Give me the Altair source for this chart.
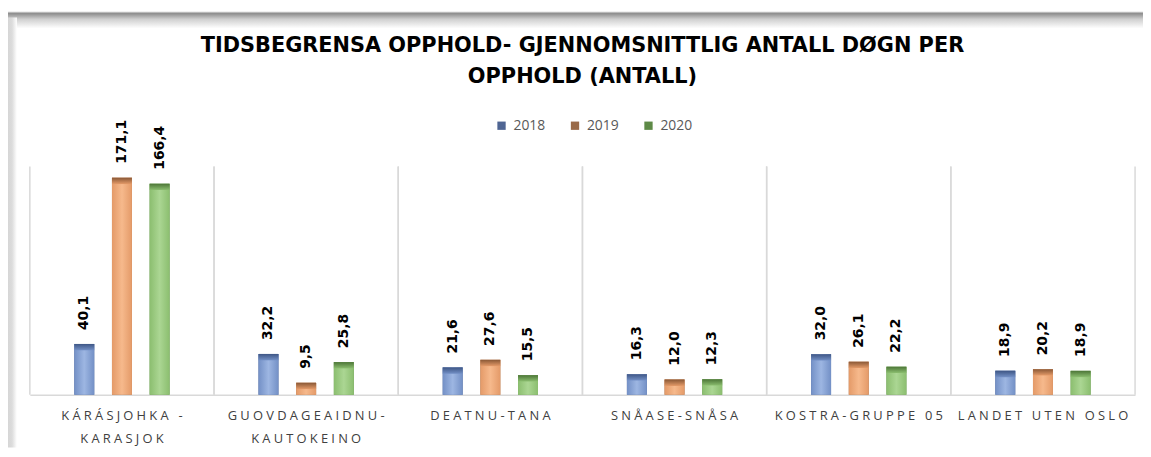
import altair as alt
import pandas as pd

categories = ["KÁRÁSJOHKA -\nKARASJOK", "GUOVDAGEAIDNU-\nKAUTOKEINO", "DEATNU-TANA",
              "SNÅASE-SNÅSA", "KOSTRA-GRUPPE 05", "LANDET UTEN OSLO"]
years = ["2018", "2019", "2020"]
v2018 = [40.1, 32.2, 21.6, 16.3, 32.0, 18.9]
v2019 = [171.1, 9.5, 27.6, 12.0, 26.1, 20.2]
v2020 = [166.4, 25.8, 15.5, 12.3, 22.2, 18.9]

legend_colors = ["#4F6593", "#9A6A48", "#5E8A47"]
body_light = ["#9DB6E2", "#F6B98C", "#ABD693"]
body_edge = ["#7390C6", "#E49A68", "#8BBE6F"]
cap_dark = ["#3E5685", "#8A5836", "#4C7537"]

rows = []
for i, c in enumerate(categories):
    for y, vals in zip(years, [v2018, v2019, v2020]):
        rows.append({"cat": c, "year": y, "value": vals[i]})
df = pd.DataFrame(rows)

ymax = 180
cat_sort = categories

x_enc = alt.X("cat:N", sort=cat_sort, title=None,
              scale=alt.Scale(paddingInner=0, paddingOuter=0),
              axis=alt.Axis(labelAngle=0, labelFont="Open Sans", labelFontSize=13,
                            labelColor="#404040", labelPadding=21, labelLineHeight=23,
                            labelAlign="center", bandPosition=0.5, labelBound=False,
                            labelOverlap=False, labelLimit=300,
                            ticks=False, grid=False, domainColor="#D9D9D9", domainWidth=1.5,
                            labelExpr="split(join(split(datum.label, ''), '\u2005'), '\\n')"))
xo_enc = alt.XOffset("year:N", sort=years,
                     scale=alt.Scale(domain=["_a"] + years + ["_b"], paddingInner=0.47, paddingOuter=0.18))
y_scale = alt.Scale(domain=[0, ymax], nice=False)
y_enc = alt.Y("value:Q", scale=y_scale, axis=None)

base = alt.Chart(df)

# decorative chart-frame shadow (Excel style)
one = alt.Chart(pd.DataFrame({"k": [0]}))
frame_top = one.mark_rect(color=alt.Gradient(
    gradient="linear", x1=0, x2=0, y1=0, y2=1,
    stops=[alt.GradientStop(offset=0, color="#E2E2E2"),
           alt.GradientStop(offset=0.12, color="#8E8E8E"),
           alt.GradientStop(offset=0.45, color="#CFCFCF"),
           alt.GradientStop(offset=1, color="#FFFFFF")])).encode(
    x=alt.value(-22), x2=alt.value(1121), y=alt.value(-156), y2=alt.value(-139))
frame_left = one.mark_rect(color=alt.Gradient(
    gradient="linear", x1=0, x2=1, y1=0, y2=0,
    stops=[alt.GradientStop(offset=0, color="#D6D6D6"),
           alt.GradientStop(offset=0.45, color="#DCDCDC"),
           alt.GradientStop(offset=1, color="#FFFFFF")])).encode(
    x=alt.value(-22), x2=alt.value(-13), y=alt.value(-150), y2=alt.value(283))

# separators
sep = base.transform_filter(alt.datum.year == "2018").transform_calculate(
    lo="0", hi=str(ymax))
sep0 = sep.mark_rule(color="#D9D9D9", strokeWidth=1.5).encode(
    x=alt.X("cat:N", sort=cat_sort, bandPosition=0),
    y=alt.Y("lo:Q", scale=y_scale, axis=None), y2="hi:Q")
sep1 = sep.mark_rule(color="#D9D9D9", strokeWidth=1.5).encode(
    x=alt.X("cat:N", sort=cat_sort, bandPosition=1),
    y=alt.Y("lo:Q", scale=y_scale, axis=None), y2="hi:Q")

legend_bars = base.mark_bar().encode(
    x=x_enc, xOffset=xo_enc, y=y_enc,
    color=alt.Color("year:N", sort=years,
                    scale=alt.Scale(domain=years, range=legend_colors),
                    legend=alt.Legend(title=None, orient="none", direction="horizontal",
                                      legendX=468, legendY=-48, symbolType="square",
                                      symbolSize=70, symbolOpacity=1, labelFont="Open Sans",
                                      labelFontSize=14, labelColor="#595959",
                                      labelOffset=5, columnPadding=22, symbolStrokeWidth=0)))

layers = [sep0, sep1, legend_bars]
for k, yr in enumerate(years):
    grad_body = alt.Gradient(gradient="linear", x1=0, x2=1, y1=0, y2=0,
                             stops=[alt.GradientStop(offset=0, color=body_edge[k]),
                                    alt.GradientStop(offset=0.5, color=body_light[k]),
                                    alt.GradientStop(offset=1, color=body_edge[k])])
    grad_cap = alt.Gradient(gradient="linear", x1=0, x2=0, y1=0, y2=1,
                            stops=[alt.GradientStop(offset=0, color=cap_dark[k]),
                                   alt.GradientStop(offset=1, color=body_edge[k])])
    sub = base.transform_filter(alt.datum.year == yr)
    layers.append(sub.mark_bar(color=grad_body).encode(x=x_enc, xOffset=xo_enc, y=y_enc))
    layers.append(sub.transform_calculate(capb="datum.value - 5").mark_bar(color=grad_cap).encode(
        x=x_enc, xOffset=xo_enc, y=y_enc, y2="capb:Q"))

labels = base.transform_calculate(
    lbl="replace(format(datum.value, '.1f'), '.', ',')"
).mark_text(angle=270, align="left", baseline="middle", dx=14, font="DejaVu Sans",
            fontWeight="bold", fontSize=14, color="#000000").encode(
    x=x_enc, xOffset=xo_enc, y=y_enc, text="lbl:N")
layers.append(labels)

chart = alt.layer(frame_top, frame_left, *layers).properties(
    width=1113, height=230,
    title=alt.TitleParams(
        ["TIDSBEGRENSA OPPHOLD- GJENNOMSNITTLIG ANTALL DØGN PER", "OPPHOLD (ANTALL)"],
        font="DejaVu Sans", fontSize=21, fontWeight="bold", color="#000000",
        anchor="middle", lineHeight=31, offset=32, dy=108),
    autosize=alt.AutoSizeParams(type="none"),
    padding={"left": 22, "top": 158, "right": 8, "bottom": 52},
).configure_view(stroke=None)

chart.save("out.html", embed_options={"renderer": "svg", "actions": False})
